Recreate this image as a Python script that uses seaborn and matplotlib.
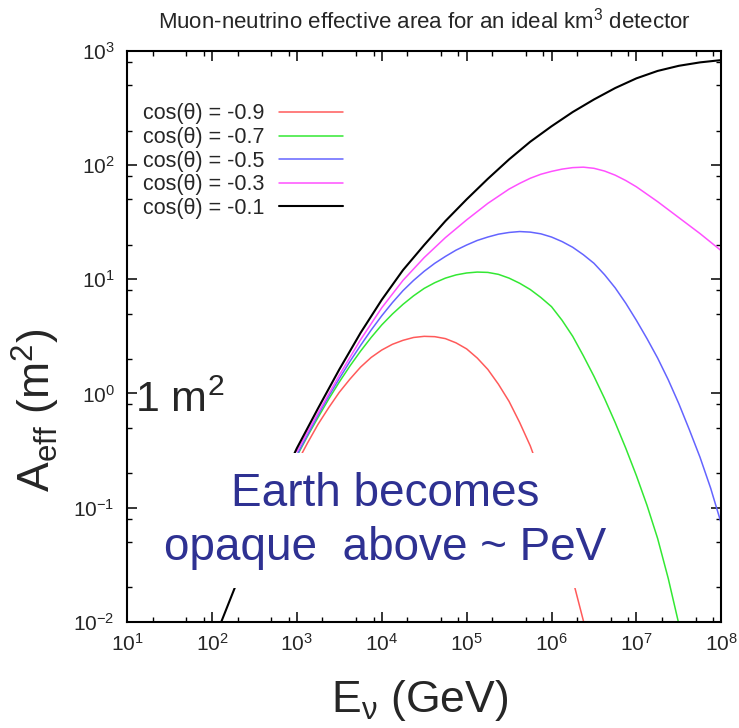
import numpy as np
import pandas as pd
import seaborn as sns
import matplotlib.pyplot as plt
from matplotlib.ticker import LogLocator, NullFormatter

sns.set_theme(style="white")
plt.rcParams['font.family'] = ['Liberation Sans', 'DejaVu Sans']
plt.rcParams['mathtext.fontset'] = 'custom'
plt.rcParams['mathtext.rm'] = 'Liberation Sans'
plt.rcParams['mathtext.it'] = 'Liberation Sans:italic'
plt.rcParams['mathtext.bf'] = 'Liberation Sans:bold'

# curves (log10 E in GeV, log10 A in m^2)
labels = ['cos(θ) = -0.9', 'cos(θ) = -0.7', 'cos(θ) = -0.5',
          'cos(θ) = -0.3', 'cos(θ) = -0.1']
colors = ['#ff5a5a', '#33e833', '#6464ff', '#ff50ff', 'black']

logE_09 = [3.000, 3.125, 3.250, 3.375, 3.500, 3.625, 3.750, 3.875, 4.000,
           4.125, 4.250, 4.375, 4.500, 4.625, 4.750, 4.875, 5.000, 5.125,
           5.250, 5.375, 5.500, 5.625, 5.750, 5.875, 6.000, 6.125, 6.250,
           6.375, 6.400]
logA_09 = [-0.61, -0.435, -0.27, -0.125, 0.01, 0.125, 0.23, 0.315, 0.38,
           0.43, 0.465, 0.49, 0.50, 0.497, 0.48, 0.443, 0.39, 0.31,
           0.21, 0.08, -0.07, -0.255, -0.46, -0.715, -0.99, -1.30, -1.63,
           -1.99, -2.07]

logE_07 = [3.000, 3.125, 3.250, 3.375, 3.500, 3.625, 3.750, 3.875, 4.000,
           4.125, 4.250, 4.375, 4.500, 4.625, 4.750, 4.875, 5.000, 5.125,
           5.250, 5.375, 5.500, 5.625, 5.750, 5.875, 6.000, 6.125, 6.250,
           6.375, 6.500, 6.625, 6.750, 6.875, 7.000, 7.125, 7.250, 7.375,
           7.500, 7.550]
logA_07 = [-0.55, -0.375, -0.21, -0.05, 0.10, 0.24, 0.37, 0.49, 0.60,
           0.695, 0.78, 0.855, 0.92, 0.97, 1.01, 1.038, 1.055, 1.063,
           1.06, 1.043, 1.01, 0.965, 0.91, 0.84, 0.76, 0.64, 0.50,
           0.33, 0.15, -0.045, -0.255, -0.48, -0.72, -0.98, -1.27, -1.62,
           -2.02, -2.18]

logE_05 = [3.000, 3.125, 3.250, 3.375, 3.500, 3.625, 3.750, 3.875, 4.000,
           4.125, 4.250, 4.375, 4.500, 4.625, 4.750, 4.875, 5.000, 5.125,
           5.250, 5.375, 5.500, 5.625, 5.750, 5.875, 6.000, 6.125, 6.250,
           6.375, 6.500, 6.625, 6.750, 6.875, 7.000, 7.125, 7.250, 7.375,
           7.500, 7.625, 7.750, 7.875, 8.000]
logA_05 = [-0.54, -0.365, -0.19, -0.025, 0.13, 0.28, 0.42, 0.555, 0.68,
           0.795, 0.90, 0.99, 1.07, 1.14, 1.20, 1.255, 1.30, 1.34,
           1.37, 1.395, 1.41, 1.418, 1.413, 1.398, 1.37, 1.33, 1.28,
           1.215, 1.14, 1.04, 0.925, 0.79, 0.64, 0.48, 0.31, 0.12,
           -0.09, -0.32, -0.56, -0.83, -1.14]

logE_03 = [3.00, 3.25, 3.50, 3.75, 4.00, 4.25, 4.50, 4.75, 5.00, 5.25, 5.50,
           5.625, 5.75, 5.875, 6.00, 6.125, 6.25, 6.375, 6.50, 6.625, 6.75,
           6.875, 7.00, 7.25, 7.50, 7.75, 8.00]
logA_03 = [-0.51, -0.17, 0.16, 0.47, 0.75, 0.99, 1.19, 1.365, 1.52, 1.665,
           1.79, 1.84, 1.885, 1.92, 1.945, 1.965, 1.978, 1.982, 1.972, 1.948,
           1.912, 1.865, 1.81, 1.68, 1.54, 1.40, 1.25]

logE_01 = [2.11, 2.27, 2.50, 2.75, 3.00, 3.25, 3.50, 3.75, 4.00, 4.25, 4.50,
           4.75, 5.00, 5.25, 5.50, 5.75, 6.00, 6.25, 6.50, 6.75, 7.00, 7.25,
           7.50, 7.75, 8.00]
logA_01 = [-2.00, -1.70, -1.30, -0.88, -0.48, -0.13, 0.21, 0.53, 0.82, 1.08,
           1.30, 1.51, 1.70, 1.88, 2.05, 2.205, 2.34, 2.465, 2.575, 2.675,
           2.76, 2.825, 2.87, 2.90, 2.92]

xticks = [1e1, 1e2, 1e3, 1e4, 1e5, 1e6, 1e7, 1e8]
xtick_labels = ['$10^{1}$', '$10^{2}$', '$10^{3}$', '$10^{4}$', '$10^{5}$',
                '$10^{6}$', '$10^{7}$', '$10^{8}$']
yticks = [1e-2, 1e-1, 1e0, 1e1, 1e2, 1e3]
ytick_labels = ['$10^{-2}$', '$10^{-1}$', '$10^{0}$', '$10^{1}$', '$10^{2}$',
                '$10^{3}$']

frames = []
for lab, le, la in zip(labels,
                       [logE_09, logE_07, logE_05, logE_03, logE_01],
                       [logA_09, logA_07, logA_05, logA_03, logA_01]):
    frames.append(pd.DataFrame({'E': np.power(10.0, le),
                                'A': np.power(10.0, la),
                                'curve': lab}))
df = pd.concat(frames, ignore_index=True)

fig = plt.figure(figsize=(7.39, 7.28), dpi=100)
ax = fig.add_axes([0.172, 0.146, 0.804, 0.784])
ax.set(xscale='log', yscale='log')

for lab, col in zip(labels, colors):
    lw = 1.5 if col == 'black' else 1.1
    sns.lineplot(data=df[df.curve == lab], x='E', y='A', color=col, lw=lw,
                 sort=False, estimator=None, label=lab, ax=ax)

ax.set_xlim(1e1, 1e8)
ax.set_ylim(1e-2, 1e3)
ax.set_xticks(xticks, xtick_labels)
ax.set_yticks(yticks, ytick_labels)
ax.xaxis.set_minor_locator(LogLocator(base=10, subs=[2, 5, 8], numticks=30))
ax.yaxis.set_minor_locator(LogLocator(base=10, subs=[2, 5, 8], numticks=30))
ax.xaxis.set_minor_formatter(NullFormatter())
ax.yaxis.set_minor_formatter(NullFormatter())
ax.tick_params(which='both', direction='in', top=True, right=True,
               bottom=True, left=True, color='black', labelsize=15)
ax.tick_params(which='major', length=7.2, width=1.1)
ax.tick_params(which='minor', length=3.6, width=1.0)
ax.tick_params(axis='x', pad=8)
ax.tick_params(axis='y', pad=9)
for sp in ax.spines.values():
    sp.set_color('black')
    sp.set_linewidth(1.5)

ax.set_title('Muon-neutrino effective area for an ideal km$^3$ detector',
             fontsize=16, pad=16)
ax.set_xlabel(r'E$_\mathrm{ν}$ (GeV)', fontsize=32)
ax.xaxis.set_label_coords(0.493, -0.098)
ax.set_ylabel(r'A$_\mathrm{eff}$ (m$^2$)', fontsize=32)
ax.yaxis.set_label_coords(-0.109, 0.37)

ax.legend(loc='upper left', bbox_to_anchor=(0.027, 0.908), frameon=False,
          markerfirst=False, fontsize=15.5, handlelength=3.0,
          handletextpad=0.65, labelspacing=0.12, borderpad=0,
          borderaxespad=0)

ax.text(0.013, 0.368, '1 m$^2$', fontsize=31, ha='left', va='baseline',
        transform=ax.transAxes)
ax.text(0.434, 0.177, 'Earth becomes\nopaque  above ~ PeV', fontsize=33,
        color='#2e3192', ha='center', va='center', multialignment='center',
        linespacing=1.3, transform=ax.transAxes, zorder=2.3,
        bbox=dict(boxstyle='square,pad=0.4', fc='white', ec='none'))

fig.savefig('out.png', dpi=100)
